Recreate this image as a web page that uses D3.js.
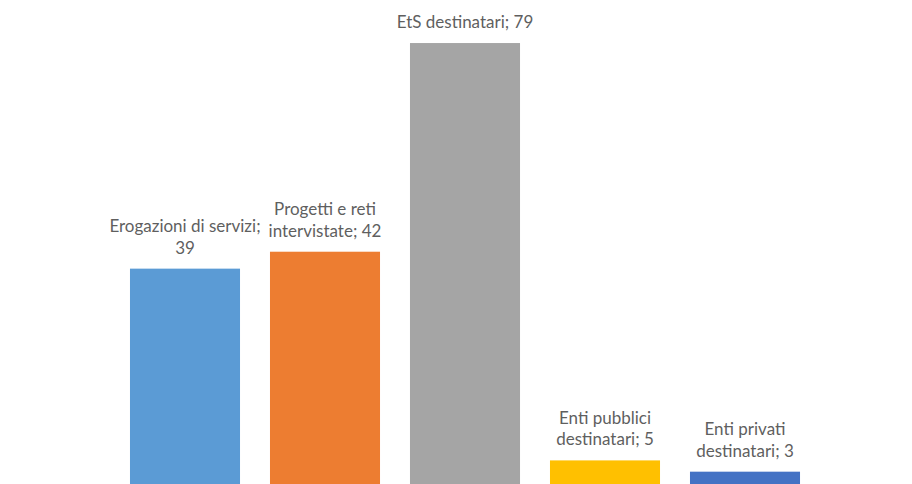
<!DOCTYPE html>
<html>
<head>
<meta charset="utf-8">
<title>Destinatari</title>
<style>
  body { margin: 0; background: #ffffff; }
  .lbl { font-family: Lato, "Open Sans", sans-serif; font-size: 17px; fill: #5f5f5f; }
</style>
<script src="https://d3js.org/d3.v7.min.js"></script>
</head>
<body>
<div id="canvas"></div>
<script>
// chart data
var categories = ["Erogazioni di servizi", "Progetti e reti intervistate", "EtS destinatari",
                  "Enti pubblici destinatari", "Enti privati destinatari"];
var values = [39, 42, 79, 5, 3];
// how each data label is broken over lines (as in the original)
var labelLines = [
  ["Erogazioni di servizi;", "39"],
  ["Progetti e reti", "intervistate; 42"],
  ["EtS destinatari; 79"],
  ["Enti pubblici", "destinatari; 5"],
  ["Enti privati", "destinatari; 3"]
];
var palette = ["#5B9BD5", "#ED7D31", "#A5A5A5", "#FFC000", "#4472C4"];

var width = 912, height = 484;

var svg = d3.select("#canvas").append("svg")
    .attr("width", width)
    .attr("height", height);

var x = d3.scaleBand()
    .domain(categories)
    .range([115, 815])
    .paddingInner(0.214)
    .paddingOuter(0.107);

var y = d3.scaleLinear()
    .domain([0, 80])
    .range([488.6, 37.4]);

var color = d3.scaleOrdinal().domain(categories).range(palette);

var data = categories.map(function(c, i) {
  return { name: c, value: values[i], lines: labelLines[i] };
});

svg.selectAll(".bar")
  .data(data)
  .enter().append("rect")
    .attr("class", "bar")
    .attr("x", function(d) { return x(d.name); })
    .attr("y", function(d) { return y(d.value); })
    .attr("width", x.bandwidth())
    .attr("height", function(d) { return y(0) - y(d.value); })
    .attr("fill", function(d) { return color(d.name); });

var lineH = 21.5;

var labels = svg.selectAll(".lbl")
  .data(data)
  .enter().append("text")
    .attr("class", "lbl")
    .attr("text-anchor", "middle");

labels.each(function(d) {
  var t = d3.select(this);
  var cx = x(d.name) + x.bandwidth() / 2;
  var last = y(d.value) - 15;
  var n = d.lines.length;
  d.lines.forEach(function(s, k) {
    t.append("tspan")
      .attr("x", cx)
      .attr("y", last - (n - 1 - k) * lineH)
      .text(s);
  });
});
</script>
</body>
</html>
